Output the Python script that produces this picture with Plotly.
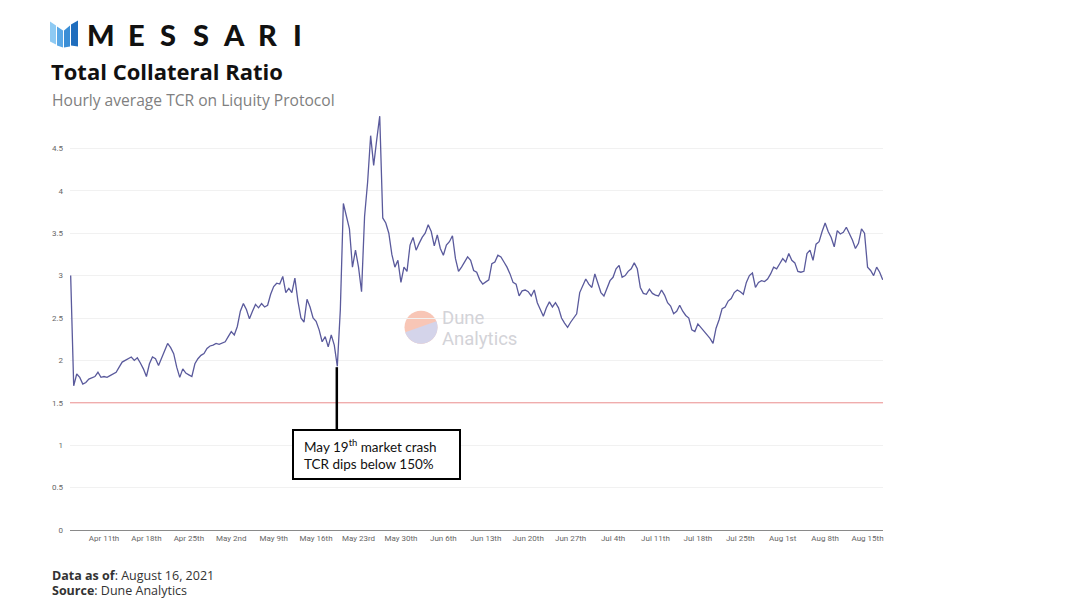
#!/usr/bin/env python3
"""
Liquity Total Collateral Ratio chart (Messari style).

Hourly average TCR on Liquity Protocol, Apr - Aug 2021.
"""

import numpy as np
import pandas as pd
import plotly.graph_objects as go


# --- data ------------------------------------------------------------------
start_time = '2021-04-05 12:00'
step = '12h'

# TCR, one value every 12 hours from start_time
tcr = [
    3.00, 1.70, 1.84, 1.80, 1.72, 1.74, 1.78, 1.80, 1.81, 1.86,
    1.80, 1.81, 1.80, 1.82, 1.84, 1.86, 1.92, 1.98, 2.00, 2.02,
    2.04, 2.00, 2.03, 1.97, 1.90, 1.81, 1.96, 2.04, 2.02, 1.94,
    2.03, 2.12, 2.20, 2.15, 2.08, 1.92, 1.80, 1.90, 1.85, 1.83,
    1.81, 1.96, 2.02, 2.06, 2.08, 2.14, 2.17, 2.18, 2.20, 2.19,
    2.21, 2.22, 2.28, 2.34, 2.30, 2.40, 2.58, 2.67, 2.60, 2.49,
    2.58, 2.66, 2.62, 2.67, 2.63, 2.65, 2.78, 2.87, 2.91, 2.90,
    2.99, 2.80, 2.85, 2.80, 2.97, 2.70, 2.50, 2.45, 2.72, 2.63,
    2.50, 2.46, 2.36, 2.22, 2.28, 2.16, 2.30, 2.18, 1.93, 2.60,
    3.85, 3.70, 3.55, 3.10, 3.30, 3.10, 2.81, 3.70, 4.10, 4.65,
    4.30, 4.60, 4.88, 3.68, 3.62, 3.50, 3.25, 3.10, 3.18, 2.92,
    3.10, 3.05, 3.36, 3.45, 3.30, 3.38, 3.45, 3.50, 3.60, 3.52,
    3.35, 3.48, 3.32, 3.24, 3.36, 3.40, 3.47, 3.20, 3.05, 3.10,
    3.16, 3.22, 3.18, 3.06, 3.04, 2.95, 2.90, 2.93, 2.95, 3.14,
    3.16, 3.24, 3.22, 3.16, 3.10, 3.02, 2.92, 2.90, 2.76, 2.82,
    2.83, 2.81, 2.76, 2.83, 2.68, 2.60, 2.52, 2.62, 2.69, 2.63,
    2.68, 2.62, 2.50, 2.44, 2.39, 2.45, 2.50, 2.55, 2.80, 2.88,
    2.96, 2.90, 2.86, 3.02, 2.90, 2.80, 2.76, 2.86, 2.94, 2.98,
    3.08, 3.12, 2.98, 3.00, 3.05, 3.08, 3.15, 3.08, 2.86, 2.79,
    2.78, 2.84, 2.79, 2.77, 2.76, 2.83, 2.77, 2.68, 2.64, 2.55,
    2.58, 2.65, 2.58, 2.53, 2.50, 2.36, 2.34, 2.43, 2.39, 2.35,
    2.31, 2.26, 2.20, 2.38, 2.48, 2.61, 2.63, 2.70, 2.73, 2.80,
    2.83, 2.81, 2.78, 2.92, 3.00, 3.03, 2.86, 2.92, 2.94, 2.93,
    2.96, 3.02, 3.10, 3.08, 3.14, 3.20, 3.16, 3.26, 3.18, 3.15,
    3.05, 3.04, 3.05, 3.26, 3.30, 3.18, 3.37, 3.40, 3.52, 3.62,
    3.52, 3.45, 3.34, 3.53, 3.49, 3.51, 3.57, 3.50, 3.42, 3.32,
    3.38, 3.55, 3.50, 3.10, 3.06, 3.00, 3.10, 3.04, 2.95,
]

liquidation_level = 1.5
crash_date = '2021-05-19 10:00'
crash_low = 1.92

tick_dates = [
    '2021-04-11', '2021-04-18', '2021-04-25', '2021-05-02', '2021-05-09',
    '2021-05-16', '2021-05-23', '2021-05-30', '2021-06-06', '2021-06-13',
    '2021-06-20', '2021-06-27', '2021-07-04', '2021-07-11', '2021-07-18',
    '2021-07-25', '2021-08-01', '2021-08-08', '2021-08-15',
]
tick_labels = [
    'Apr 11th', 'Apr 18th', 'Apr 25th', 'May 2nd', 'May 9th', 'May 16th',
    'May 23rd', 'May 30th', 'Jun 6th', 'Jun 13th', 'Jun 20th', 'Jun 27th',
    'Jul 4th', 'Jul 11th', 'Jul 18th', 'Jul 25th', 'Aug 1st', 'Aug 8th',
    'Aug 15th',
]
y_ticks = [0, 0.5, 1, 1.5, 2, 2.5, 3, 3.5, 4, 4.5]
y_labels = ['0', '0.5', '1', '1.5', '2', '2.5', '3', '3.5', '4', '4.5']

# --- page geometry ------------------------------------------------------------
# positions below are measured on the 1080x608 screenshot; the page body
# adds an 8px margin, so the figure itself is drawn 8px smaller/shifted.
OFF = 8
W, H = 1080 - OFF, 608 - OFF
L, R, T, B = 70, 883, 105.5, 530


def px(x):
    return (x - L) / (R - L)


def py(y):
    return (B - y) / (B - T)


times = pd.date_range(start=start_time, periods=len(tcr), freq=step)

fig = go.Figure()

fig.add_trace(go.Scatter(
    x=times, y=tcr, mode='lines',
    line=dict(color='#5a5a9c', width=1.3),
    showlegend=False,
))

shapes = []

# 150% liquidation line
shapes.append(dict(type='line', xref='paper', yref='y', x0=0, x1=1,
                   y0=liquidation_level, y1=liquidation_level,
                   line=dict(color='rgba(238, 120, 120, 0.8)', width=1), layer='above'))

# crash pointer + box
crash_px = B - crash_low * (B - T) / 5
shapes.append(dict(type='line', xref='x', yref='paper',
                   x0=crash_date, x1=crash_date, y0=py(crash_px), y1=py(430),
                   line=dict(color='black', width=2.5)))
shapes.append(dict(type='rect', xref='paper', yref='paper',
                   x0=px(293), x1=px(460), y0=py(479), y1=py(430),
                   line=dict(color='black', width=2), fillcolor='white', layer='above'))

# Dune Analytics watermark circle: salmon top, lavender bottom
cx, cy, r = 421, 327, 16.5
shapes.append(dict(type='circle', xref='paper', yref='paper',
                   x0=px(cx - r), x1=px(cx + r), y0=py(cy + r), y1=py(cy - r),
                   fillcolor='#f8c6b6', line_width=0, layer='below'))
ang = np.linspace(np.deg2rad(-21), np.deg2rad(162), 40)
pts = [(cx + r * np.cos(a), cy + r * np.sin(a)) for a in ang]
path = 'M ' + ' L '.join(f'{px(a):.5f},{py(b):.5f}' for a, b in pts) + ' Z'
shapes.append(dict(type='path', xref='paper', yref='paper', path=path,
                   fillcolor='#d4d4ea', line_width=0, layer='below'))

# Messari logo mark
stripes = [
    ([(50, 21), (56, 25), (56, 44), (50, 41)], '#8ecaf3'),
    ([(57, 26), (63, 30), (63, 47), (57, 45)], '#5aa8e6'),
    ([(64, 30), (70, 25), (70, 46), (64, 47)], '#3a8ed6'),
    ([(71, 24), (78, 20), (78, 46), (71, 45)], '#1f6dbd'),
]
for poly, col in stripes:
    p = 'M ' + ' L '.join(f'{px(a):.5f},{py(b):.5f}' for a, b in poly) + ' Z'
    shapes.append(dict(type='path', xref='paper', yref='paper', path=p,
                       fillcolor=col, line_width=0))

annotations = []

# MESSARI wordmark, letter by letter
letters = ['M', 'E', 'S', 'S', 'A', 'R', 'I']
letter_x = [101, 136, 168, 201, 234, 267, 297]
for ch, lx in zip(letters, letter_x):
    annotations.append(dict(
        text=ch, xref='paper', yref='paper', x=px(lx), y=py(34),
        xanchor='center', yanchor='middle', showarrow=False,
        font=dict(family='Lato', size=29, weight=900, color='#111111'),
    ))

# watermark words
for word, wy in [('Dune', 318), ('Analytics', 339)]:
    annotations.append(dict(
        text=word, xref='paper', yref='paper', x=px(440), y=py(wy),
        xanchor='left', yanchor='middle', showarrow=False,
        font=dict(family='Roboto', size=18.5, color='#d3d3d8'),
    ))

annotations += [
    dict(text='<b>Total Collateral Ratio</b>', xref='paper', yref='paper',
         x=px(49), y=py(70), xanchor='left', yanchor='middle', showarrow=False,
         font=dict(family='Open Sans', size=22, color='#111111')),
    dict(text='Hourly average TCR on Liquity Protocol', xref='paper', yref='paper',
         x=px(50), y=py(99), xanchor='left', yanchor='middle', showarrow=False,
         font=dict(family='Open Sans', size=15.6, color='#808080')),
    dict(text='May 19<sup>th</sup> market crash<br>TCR dips below 150%',
         xref='paper', yref='paper', x=px(302), y=py(454), xanchor='left',
         yanchor='middle', align='left', showarrow=False,
         font=dict(family='Lato', size=13.5, color='#111111')),
    dict(text='<b>Data as of</b>: August 16, 2021', xref='paper', yref='paper',
         x=px(50), y=py(576), xanchor='left', yanchor='middle', showarrow=False,
         font=dict(family='Open Sans', size=12.5, color='#333333')),
    dict(text='<b>Source</b>: Dune Analytics', xref='paper', yref='paper',
         x=px(50), y=py(591), xanchor='left', yanchor='middle', showarrow=False,
         font=dict(family='Open Sans', size=12.5, color='#333333')),
]

fig.update_layout(
    width=W, height=H,
    margin=dict(l=L - OFF, r=W - (R - OFF), t=T - OFF, b=H - (B - OFF), pad=0),
    paper_bgcolor='white', plot_bgcolor='white',
    shapes=shapes,
    annotations=annotations,
    showlegend=False,
)

fig.update_xaxes(
    range=['2021-04-05 09:20', '2021-08-17 13:10'],
    tickvals=tick_dates, ticktext=tick_labels,
    showgrid=False, showline=True, linecolor='#8a8a8a', linewidth=1,
    ticks='', tickfont=dict(family='Roboto', size=8, color='#666666'),
    zeroline=False,
)
fig.update_yaxes(
    range=[0, 5],
    tickvals=y_ticks, ticktext=y_labels,
    showgrid=True, gridcolor='#f1f1f1', gridwidth=1,
    zeroline=False, showline=False, ticks='',
    tickfont=dict(family='Roboto', size=8, color='#666666'),
    ticklabelstandoff=6,
)

fig.write_html('out.html')
